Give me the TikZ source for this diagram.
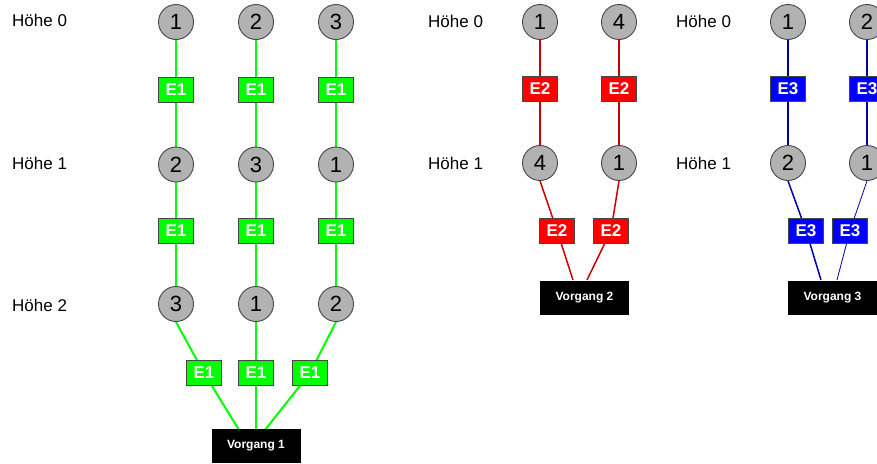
\documentclass[tikz,border=0pt]{standalone}
\usepackage{fontspec}
\setmainfont{Liberation Sans}
\usepackage{tikz}
\usetikzlibrary{backgrounds}
\definecolor{knotgrau}{RGB}{178,178,178}
\definecolor{rand}{RGB}{70,70,70}
\definecolor{gruen}{RGB}{0,255,0}
\definecolor{rot}{RGB}{255,0,0}
\definecolor{dunkelrot}{RGB}{200,0,0}
\definecolor{blau}{RGB}{0,0,255}
\definecolor{dunkelblau}{RGB}{0,0,170}
\tikzset{
  knoten/.style={circle,draw=rand,fill=knotgrau,line width=0.9pt,minimum size=35pt,
    inner sep=0pt,font=\fontsize{22}{22}\selectfont},
  ebox/.style={draw=rand,line width=0.8pt,minimum width=35pt,minimum height=25pt,
    inner sep=0pt,text=white,font=\fontsize{17}{17}\selectfont\bfseries},
  egruen/.style={ebox,fill=gruen},
  erot/.style={ebox,fill=rot},
  eblau/.style={ebox,fill=blau},
  vorgang/.style={fill=black,text=white,minimum width=89pt,minimum height=34pt,
    inner sep=0pt,font=\fontsize{12}{12}\selectfont\bfseries},
  hoehe/.style={anchor=west,inner sep=0pt,font=\fontsize{17}{17}\selectfont},
  glinie/.style={draw=gruen,line width=2pt},
  rlinie/.style={draw=dunkelrot,line width=1.5pt},
  blinie/.style={draw=dunkelblau,line width=1.5pt},
}
\begin{document}
\begin{tikzpicture}[x=1pt,y=-1pt]
  \clip (0,0) rectangle (877,463);

  % Vorgang 1
  \node[hoehe] (h10) at (12,20) {Höhe 0};
  \node[hoehe] (h11) at (12,163) {Höhe 1};
  \node[hoehe] (h12) at (12,305) {Höhe 2};

  \node[knoten] (a01) at (176,22) {1};
  \node[knoten] (a02) at (256,22) {2};
  \node[knoten] (a03) at (336,22) {3};
  \node[egruen] (ea1) at (176,89.5) {E1};
  \node[egruen] (ea2) at (256,89.5) {E1};
  \node[egruen] (ea3) at (336,89.5) {E1};
  \node[knoten] (a11) at (176,164.5) {2};
  \node[knoten] (a12) at (256,164.5) {3};
  \node[knoten] (a13) at (336,164.5) {1};
  \node[egruen] (eb1) at (176,230.5) {E1};
  \node[egruen] (eb2) at (256,230.5) {E1};
  \node[egruen] (eb3) at (336,230.5) {E1};
  \node[knoten] (a21) at (176,304) {3};
  \node[knoten] (a22) at (256,304) {1};
  \node[knoten] (a23) at (336,304) {2};
  \node[egruen] (ec1) at (204,373) {E1};
  \node[egruen] (ec2) at (256,373) {E1};
  \node[egruen] (ec3) at (310,373) {E1};
  \node[vorgang] (v1) at (256,446) {Vorgang 1};
  \coordinate (v1a) at (239,430);
  \coordinate (v1b) at (256,430);
  \coordinate (v1c) at (265,430);

  % Vorgang 2
  \node[hoehe] (h20) at (428,21) {Höhe 0};
  \node[hoehe] (h21) at (428,163) {Höhe 1};

  \node[knoten] (b01) at (540,22) {1};
  \node[knoten] (b02) at (619,22) {4};
  \node[erot] (fa1) at (540,89) {E2};
  \node[erot] (fa2) at (619,89) {E2};
  \node[knoten] (b11) at (540,163) {4};
  \node[knoten] (b12) at (619,163) {1};
  \node[erot] (fb1) at (557,230.5) {E2};
  \node[erot] (fb2) at (611,230.5) {E2};
  \node[vorgang] (v2) at (584.5,297.5) {Vorgang 2};
  \coordinate (v2a) at (573,280);
  \coordinate (v2b) at (587,280);

  % Vorgang 3
  \node[hoehe] (h30) at (676,21) {Höhe 0};
  \node[hoehe] (h31) at (676,163) {Höhe 1};

  \node[knoten] (c01) at (788,22) {1};
  \node[knoten] (c02) at (867,22) {2};
  \node[eblau] (ga1) at (788,89) {E3};
  \node[eblau] (ga2) at (867,89) {E3};
  \node[knoten] (c11) at (788,163) {2};
  \node[knoten] (c12) at (867,163) {1};
  \node[eblau] (gb1) at (806,230.5) {E3};
  \node[eblau] (gb2) at (850,230.5) {E3};
  \node[vorgang] (v3) at (832.5,297.5) {Vorgang 3};
  \coordinate (v3a) at (821,280);
  \coordinate (v3b) at (837,280);

  \begin{scope}[on background layer]
    \draw[glinie] (a01) -- (ea1) -- (a11) -- (eb1) -- (a21);
    \draw[glinie] (a02) -- (ea2) -- (a12) -- (eb2) -- (a22);
    \draw[glinie] (a03) -- (ea3) -- (a13) -- (eb3) -- (a23);
    \draw[glinie] (a21.south) -- (ec1.center) -- (v1a);
    \draw[glinie] (a22.south) -- (ec2.center) -- (v1b);
    \draw[glinie] (a23.south) -- (ec3.center) -- (v1c);

    \draw[rlinie] (b01) -- (fa1) -- (b11);
    \draw[rlinie] (b02) -- (fa2) -- (b12);
    \draw[rlinie] (b11.south) -- (fb1.center) -- (v2a);
    \draw[rlinie] (b12.south) -- (fb2.center) -- (v2b);

    \draw[blinie] (c01) -- (ga1) -- (c11);
    \draw[blinie] (c02) -- (ga2) -- (c12);
    \draw[blinie] (c11.south) -- (gb1.center) -- (v3a);
    \draw[blinie,line width=0.8pt] (c12.south) -- (gb2.center) -- (v3b);
  \end{scope}
\end{tikzpicture}
\end{document}
